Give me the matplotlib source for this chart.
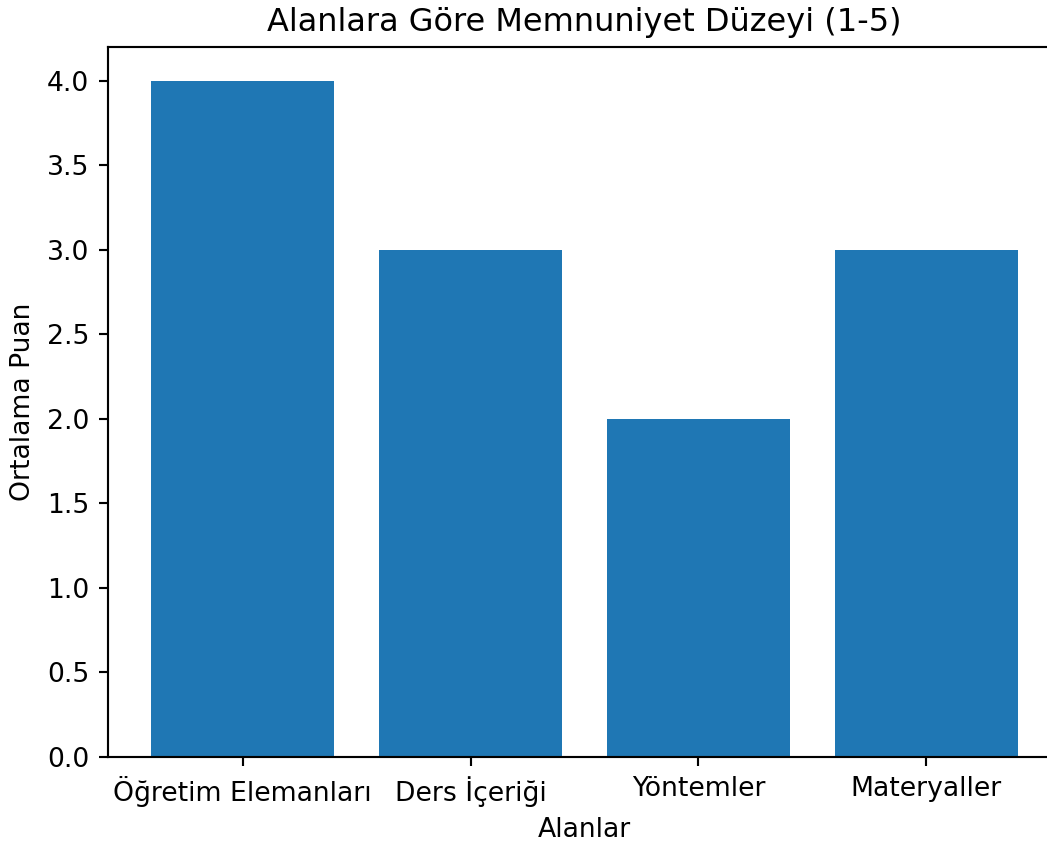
import matplotlib.pyplot as plt

alanlar = ["Öğretim Elemanları", "Ders İçeriği", "Yöntemler", "Materyaller"]
puanlar = [4, 3, 2, 3]

DPI = 192
fig = plt.figure(figsize=(1047 / DPI, 844 / DPI), dpi=DPI)
# axes run past the right edge, as in the reference crop
ax = fig.add_axes([108 / 1047, 87 / 844, 953 / 1047, 710 / 844])

ax.bar(alanlar, puanlar, color="#1f77b4")
ax.set_title("Alanlara Göre Memnuniyet Düzeyi (1-5)")
ax.set_xlabel("Alanlar")
ax.set_ylabel("Ortalama Puan")

fig.savefig("out.png", dpi=DPI)
